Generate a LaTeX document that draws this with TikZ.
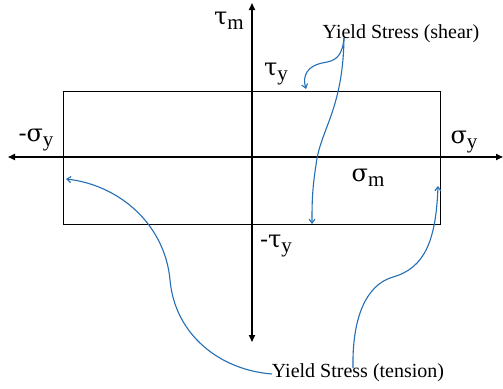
\documentclass[tikz,border=0pt]{standalone}
\usepackage{fontspec}
\setmainfont{Liberation Serif}
\newfontfamily\greekfont{DejaVu Serif}
\usetikzlibrary{arrows.meta}

\definecolor{yieldblue}{RGB}{35,110,180}
\newcommand{\stresssym}[2]{{\greekfont\fontsize{24}{24}\selectfont #1}\raisebox{-5pt}{\fontsize{21}{21}\selectfont #2}}

\begin{document}
\begin{tikzpicture}[x=1pt, y=-1pt,
    axis line/.style={line width=1.6pt, -{Triangle[length=7pt, width=6pt]}},
    yield box/.style={line width=0.8pt},
    yield arrow/.style={yieldblue, line width=1.1pt, -{Straight Barb[length=4pt, width=6pt]}},
    sym label/.style={inner sep=0pt},
    note label/.style={inner sep=0pt, font=\fontsize{20}{20}\selectfont}]
    \useasboundingbox (0,0) rectangle (503,388);

    % axes
    \coordinate (origin) at (252,157);
    \coordinate (tau top) at (252,3);
    \coordinate (tau bottom) at (252,342);
    \coordinate (sigma left) at (8,157);
    \coordinate (sigma right) at (503,157);
    \draw[axis line] (origin) -- (tau top);
    \draw[axis line] (origin) -- (tau bottom);
    \draw[axis line] (origin) -- (sigma left);
    \draw[axis line] (origin) -- (sigma right);

    % yield region
    \coordinate (box nw) at (63,91);
    \coordinate (box se) at (440,224);
    \draw[yield box] (box nw) rectangle (box se);

    % labels
    \node[sym label] (taum) at (229,21) {\stresssym{τ}{m}};
    \node[sym label] (tauy) at (276,74) {\stresssym{τ}{y}};
    \node[sym label] (mtauy) at (276,246) {\stresssym{-τ}{y}};
    \node[sym label] (msigy) at (36,140) {\stresssym{-σ}{y}};
    \node[sym label] (sigy) at (464,142) {\stresssym{σ}{y}};
    \node[sym label] (sigm) at (368,178) {\stresssym{σ}{m}};
    \node[note label] (shear) at (401,34) {Yield Stress (shear)};
    \node[note label] (tension) at (358,373) {Yield Stress (tension)};

    % arrow ends
    \coordinate (shear foot) at (344,38);
    \coordinate (tauy tip) at (306,89);
    \coordinate (mtauy tip) at (312,224);
    \coordinate (tension foot a) at (272,374);
    \coordinate (tension foot b) at (353,368);
    \coordinate (msigy tip) at (66,179);
    \coordinate (sigy tip) at (438,186);

    \draw[yield arrow] (shear foot) .. controls (342,58) and (335,61) .. (322,63)
        .. controls (308,66) and (302,75) .. (tauy tip);
    \draw[yield arrow] (shear foot) .. controls (343,110) and (320,130) .. (316,165)
        .. controls (312,190) and (312,205) .. (mtauy tip);
    \draw[yield arrow] (tension foot a) .. controls (220,370) and (175,335) .. (170,280)
        .. controls (165,225) and (120,185) .. (msigy tip);
    \draw[yield arrow] (tension foot b) .. controls (352,320) and (365,285) .. (393,277)
        .. controls (425,268) and (436,240) .. (sigy tip);
\end{tikzpicture}
\end{document}
